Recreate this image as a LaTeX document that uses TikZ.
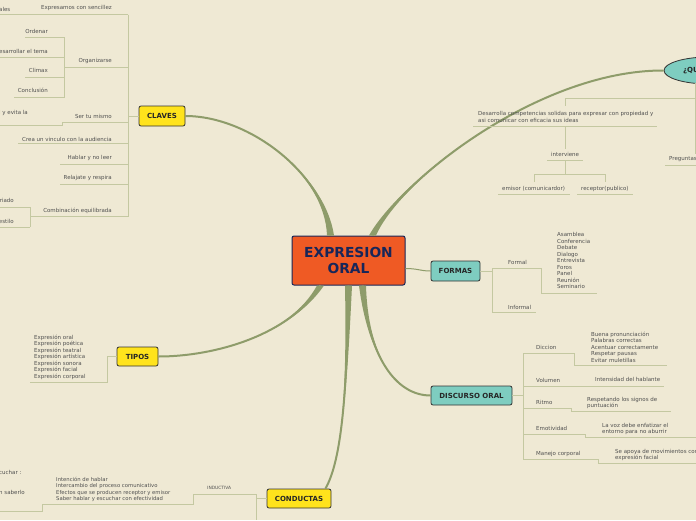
\documentclass[tikz,border=0pt]{standalone}
\usepackage{fontspec}
\setmainfont{DejaVu Sans}
\usepackage{tikz}
\usetikzlibrary{shapes.geometric}
\definecolor{paper}{HTML}{EFE9D4}
\definecolor{trunk}{HTML}{8E9C6A}
\definecolor{twig}{HTML}{C4C8A1}
\definecolor{ink}{HTML}{505050}
\definecolor{coreRed}{HTML}{EF5A24}
\definecolor{coreNavy}{HTML}{172659}
\definecolor{mYellow}{HTML}{FFE31C}
\definecolor{mTeal}{HTML}{7ECDC0}
\definecolor{edge}{HTML}{333333}
\tikzset{
  lbl/.style={font=\fontsize{5.5}{6.5}\selectfont, text=ink, inner sep=0pt, align=left},
  twig/.style={draw=twig, line width=0.9pt},
  topic/.style={rectangle, rounded corners=2pt, draw=edge, line width=0.8pt, font=\fontsize{7}{8}\selectfont\bfseries, text=black!85, inner sep=0pt},
  yelbox/.style={topic, fill=mYellow},
  tealbox/.style={topic, fill=mTeal},
  coreBox/.style={rectangle, rounded corners=2pt, draw=coreNavy, line width=1pt, fill=coreRed, text=coreNavy, font=\fontsize{13.8}{16.5}\selectfont\bfseries, align=center, minimum width=113pt, minimum height=49pt, inner sep=0pt},
}
\newcommand{\trunkcurve}[4]{%
  \fill[trunk] ([xshift=-3.5pt]#1) .. controls (#2) and (#3) .. (#4) .. controls (#3) and (#2) .. ([xshift=3.5pt]#1) -- cycle;
  \draw[trunk, line width=2pt] (#1) .. controls (#2) and (#3) .. (#4);}

\begin{document}
\begin{tikzpicture}[x=1pt, y=-1pt]
\useasboundingbox (0,0) rectangle (696,520);
\fill[paper] (0,0) rectangle (696,520);
\clip (0,0) rectangle (696,520);

% main topics
\node[coreBox] (core) at (348.5,260.5) {EXPRESION\\ORAL};
\node[yelbox, minimum width=46pt, minimum height=20pt] (claves) at (162,116) {CLAVES};
\node[yelbox, minimum width=41pt, minimum height=19pt] (tipos) at (137.5,356.5) {TIPOS};
\node[yelbox, minimum width=64pt, minimum height=19pt] (conductas) at (299,498.5) {CONDUCTAS};
\node[tealbox, minimum width=49pt, minimum height=20pt] (formas) at (455.5,271) {FORMAS};
\node[tealbox, minimum width=81pt, minimum height=19pt] (discurso) at (471.5,395.5) {DISCURSO ORAL};
\node[ellipse, draw=edge, line width=0.8pt, fill=mTeal, minimum width=90pt, minimum height=27pt, inner sep=0pt, text width=52pt, align=left, font=\fontsize{7}{8}\selectfont\bfseries, text=black!85] (qu) at (709,70.5) {¿QU};

% trunks
\coordinate (rootClaves) at ([xshift=-18pt]core.north);
\coordinate (rootQu) at ([xshift=24pt]core.north);
\coordinate (rootTipos) at ([xshift=-28pt]core.south);
\coordinate (rootConductas) at (core.south);
\coordinate (rootDiscurso) at ([xshift=14pt]core.south);
\trunkcurve{rootClaves}{325,175}{250,116}{claves.east}
\trunkcurve{rootQu}{400,180}{540,70}{qu.west}
\trunkcurve{rootTipos}{290,335}{215,356.5}{tipos.east}
\trunkcurve{rootConductas}{347,390}{342,460}{[xshift=-6pt]conductas.north east}
\trunkcurve{rootDiscurso}{368,355}{395,395.5}{discurso.west}
\draw[trunk, line width=1pt] ([yshift=-8pt]core.east) .. controls (418,268.5) and (420,271) .. (formas.west);

% CLAVES
\draw[twig] (claves.west) -- (128,116);
\draw[twig] (128,14.5) -- (128,216.5);
\draw[twig] (0,14.5) -- (128,14.5);
\node[lbl, anchor=west] (ales) at (-1,9) {ales};
\node[lbl, anchor=east] (sencillez) at (112,7.5) {Expresamos con sencillez};
\draw[twig] (64.5,67) -- (128,67);
\draw[twig] (64.5,37.5) -- (64.5,97);
\draw[twig] (25,37.5) -- (64.5,37.5);
\draw[twig] (0,57) -- (64.5,57);
\draw[twig] (25,77) -- (64.5,77);
\draw[twig] (14,97) -- (64.5,97);
\node[lbl, anchor=east] (organizarse) at (112,60.5) {Organizarse};
\node[lbl, anchor=east] (ordenar) at (48,31) {Ordenar};
\node[lbl, anchor=east] (tema) at (48,51) {desarrollar el tema};
\node[lbl, anchor=east] (climax) at (48,70.5) {Climax};
\node[lbl, anchor=east] (conclusion) at (48,90.5) {Conclusión};
\draw[twig] (0,125) -- (62,125) -- (62,122) -- (128,122);
\node[lbl, anchor=east] (mismo) at (112,116) {Ser tu mismo};
\node[lbl, anchor=east] (evita) at (28,113) {l y evita la};
\draw[twig] (18,143) -- (128,143);
\node[lbl, anchor=east] (vinculo) at (112,139) {Crea un vinculo con la audiencia};
\draw[twig] (60,164) -- (128,164);
\node[lbl, anchor=east] (leer) at (112,158) {Hablar y no leer};
\draw[twig] (60,184) -- (128,184);
\node[lbl, anchor=east] (respira) at (112,178) {Relajate y respira};
\draw[twig] (30,216.5) -- (128,216.5);
\draw[twig] (30,207) -- (30,227);
\draw[twig] (0,207) -- (30,207);
\draw[twig] (0,227) -- (30,227);
\node[lbl, anchor=east] (combinacion) at (112,210.5) {Combinación equilibrada};
\node[lbl, anchor=east] (riado) at (14,200.5) {riado};
\node[lbl, anchor=east] (estilo) at (14,221.5) {estilo};

% QUE
\draw[twig] (695,83) -- (695,98) -- (565,98);
\draw[twig] (695,98) -- (695,154);
\draw[twig] (565,98) -- (565,106);
\node[lbl, anchor=north west, font=\fontsize{5.5}{7}\selectfont] (desarrolla) at (478,110.8) {Desarrolla competencias solidas para expresar con propiedad y\\asi comunicar con eficacia sus ideas};
\draw[twig] (473,126) -- (657,126);
\draw[twig] (565,126) -- (565,149);
\node[lbl, anchor=west] (interviene) at (551,154) {interviene};
\draw[twig] (547,160) -- (583,160);
\draw[twig] (565,160) -- (565,174);
\draw[twig] (534,182) -- (534,174) -- (605,174) -- (605,182);
\node[lbl, anchor=west] (emisor) at (502,189) {emisor (comunicardor)};
\draw[twig] (498,194) -- (570,194);
\node[lbl, anchor=west] (receptor) at (581,189) {receptor(publico)};
\draw[twig] (577,194) -- (633,194);
\node[lbl, anchor=west] (preguntas) at (669,159) {Preguntas};
\draw[twig] (665,165) -- (696,165);

% FORMAS
\draw[twig] (formas.east) -- (492,271);
\draw[twig] (492,268) -- (492,312);
\draw[twig] (492,268) -- (541,268) -- (541,293) -- (597,293);
\draw[twig] (492,312) -- (536,312);
\node[lbl, anchor=west] (formal) at (508,262) {Formal};
\node[lbl, anchor=west] (informal) at (508,307) {Informal};
\node[lbl, anchor=north west] (formalList) at (557,232.6) {Asamblea\\Conferencia\\Debate\\Dialogo\\Entrevista\\Foros\\Panel\\Reunión\\Seminario};

% DISCURSO ORAL
\draw[twig] (discurso.east) -- (523,395.5);
\draw[twig] (523,353) -- (523,459);
\draw[twig] (523,353) -- (574,353) -- (574,365) -- (667,365);
\node[lbl, anchor=west] (diccion) at (536,347) {Diccion};
\node[lbl, anchor=north west] (diccionList) at (591,331.8) {Buena pronunciación\\Palabras correctas\\Acentuar correctamente\\Respetar pausas\\Evitar muletillas};
\draw[twig] (523,386) -- (664,386);
\node[lbl, anchor=west] (volumen) at (536,380) {Volumen};
\node[lbl, anchor=west] (intensidad) at (595,379) {Intensidad del hablante};
\draw[twig] (523,408) -- (571,408) -- (571,411) -- (671,411);
\node[lbl, anchor=west] (ritmo) at (536,402) {Ritmo};
\node[lbl, anchor=north west] (signos) at (587,396.8) {Respetando los signos de\\puntuación};
\draw[twig] (523,434) -- (585,434) -- (585,437) -- (696,437);
\node[lbl, anchor=west] (emotividad) at (536,428) {Emotividad};
\node[lbl, anchor=north west] (enfatizar) at (602,422.8) {La voz debe enfatizar el\\entorno para no aburrir};
\draw[twig] (523,459) -- (598,459) -- (598,463) -- (696,463);
\node[lbl, anchor=west] (manejo) at (536,454) {Manejo corporal};
\node[lbl, anchor=north west] (movimientos) at (615,448.8) {Se apoya de movimientos con\\expresión facial};

% TIPOS
\draw[twig] (tipos.west) -- (107,356.5) -- (107,382) -- (30,382);
\node[lbl, anchor=north west] (tiposList) at (34,334.8) {Expresión oral\\Expresión poética\\Expresión teatral\\Expresión artística\\Expresión sonora\\Expresión facial\\Expresión corporal};

% CONDUCTAS
\draw[twig] (conductas.west) -- (256,498.5);
\draw[twig] (256,494) -- (256,520);
\draw[twig] (256,494) -- (193,494) -- (193,504) -- (42,504) -- (42,511) -- (0,511);
\node[lbl, anchor=west, font=\fontsize{4.4}{5}\selectfont] (inductiva) at (207,488) {INDUCTIVA};
\node[lbl, anchor=north west, font=\fontsize{5.3}{6.4}\selectfont] (inductivaList) at (56,476.8) {Intención de hablar\\Intercambio del proceso comunicativo\\Efectos que se producen receptor y emisor\\Saber hablar y escuchar con efectividad};
\node[lbl, anchor=west] (escuchar) at (-1,472) {cuchar :};
\node[lbl, anchor=west] (saberlo) at (-1,492) {n saberlo};
\end{tikzpicture}
\end{document}
